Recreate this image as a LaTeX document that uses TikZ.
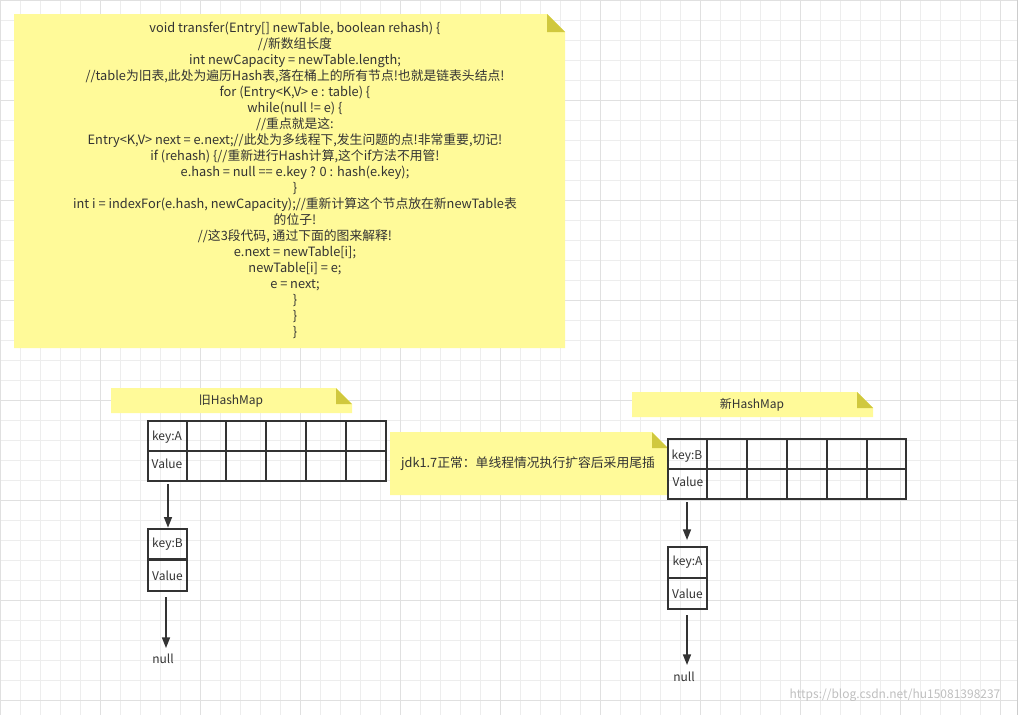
\documentclass[tikz,border=0pt]{standalone}
\usepackage{fontspec}
\setmainfont{Noto Sans CJK SC}
\usetikzlibrary{arrows.meta}
\begin{document}
\begin{tikzpicture}[x=0.75pt,y=-0.75pt,
  note/.style={fill=yellow!40!white,draw=none},
  fold/.style={fill=olive!60!yellow!70!white,draw=none},
  cell/.style={draw=black!80,line width=1.5pt},
  lbl/.style={font=\fontsize{9}{11}\selectfont,text=black!80,inner sep=1pt},
  arr/.style={draw=black!80,line width=1.2pt,-{Triangle[length=8pt,width=6pt]}}]
\useasboundingbox (0,0) rectangle (1035,715);
\fill[white] (0,0) rectangle (1035,715);
% grid
\foreach \x in {0,20,...,1000} \draw[black!7,line width=0.4pt] (\x,0) -- (\x,715);
\foreach \y in {0,20,...,700} \draw[black!7,line width=0.4pt] (0,\y) -- (1017,\y);
\foreach \x in {0,100,...,1000} \draw[black!12,line width=0.5pt] (\x,0) -- (\x,715);
\foreach \y in {0,100,...,700} \draw[black!12,line width=0.5pt] (0,\y) -- (1017,\y);
\draw[black!20] (1017,0) -- (1017,715);
% code note
\fill[note] (14,14) -- (547,14) -- (565,32) -- (565,348) -- (14,348) -- cycle;
\fill[fold] (547,14) -- (565,32) -- (547,32) -- cycle;
\node[lbl,align=center,font=\fontsize{9.6}{12}\selectfont] (code) at (295,180) {void transfer(Entry[] newTable, boolean rehash) \{\\
//新数组长度\\
int newCapacity = newTable.length;\\
//table为旧表,此处为遍历Hash表,落在桶上的所有节点!也就是链表头结点!\\
for (Entry<K,V> e : table) \{\\
while(null != e) \{\\
//重点就是这:\\
Entry<K,V> next = e.next;//此处为多线程下,发生问题的点!非常重要,切记!\\
if (rehash) \{//重新进行Hash计算,这个if方法不用管!\\
e.hash = null == e.key ? 0 : hash(e.key);\\
\}\\
int i = indexFor(e.hash, newCapacity);//重新计算这个节点放在新newTable表\\
的位子!\\
//这3段代码, 通过下面的图来解释!\\
e.next = newTable[i];\\
newTable[i] = e;\\
e = next;\\
\}\\
\}\\
\}};
% old label
\fill[note] (111,388) -- (336,388) -- (352,404) -- (352,413) -- (111,413) -- cycle;
\fill[fold] (336,388) -- (352,404) -- (336,404) -- cycle;
\node[lbl] (oldl) at (231,401) {旧HashMap};
% new label
\fill[note] (632,392) -- (857,392) -- (873,408) -- (873,417) -- (632,417) -- cycle;
\fill[fold] (857,392) -- (873,408) -- (857,408) -- cycle;
\node[lbl] (newl) at (752,405) {新HashMap};
% middle note
\fill[note] (390,432) -- (652,432) -- (668,448) -- (668,495) -- (390,495) -- cycle;
\fill[fold] (652,432) -- (668,448) -- (652,448) -- cycle;
\node[lbl,font=\fontsize{9.6}{11}\selectfont] (mid) at (528,464) {jdk1.7正常：单线程情况执行扩容后采用尾插};
% old table
\foreach \a/\b in {148/187,187/226,226/266,266/306,306/346,346/386}{
  \draw[cell] (\a,421) rectangle (\b,451);
  \draw[cell] (\a,451) rectangle (\b,481);}
\node[lbl] (oka) at (167,437) {key:A};
\node[lbl] (ova) at (167,464) {Value};
\coordinate (o1) at (168,484);
\node[lbl,draw=black!80,line width=1.5pt,minimum width=29pt,minimum height=23pt,inner sep=0pt] (okb) at (167.5,544) {key:B};
\node[lbl,draw=black!80,line width=1.5pt,minimum width=29pt,minimum height=23pt,inner sep=0pt] (ovb) at (167.5,575.5) {Value};
\node[lbl] (onull) at (163,659) {null};
\coordinate (o2) at (166,597);
\coordinate (o3) at (166,648);
\draw[arr] (o1) -- (okb.north -| o1);
\draw[arr] (o2) -- (o3);
% new table
\foreach \a/\b in {668/707,707/747,747/787,787/827,827/867,867/906}{
  \draw[cell] (\a,439) rectangle (\b,469);
  \draw[cell] (\a,469) rectangle (\b,499);}
\node[lbl] (nkb) at (687,456) {key:B};
\node[lbl] (nvb) at (688,482) {Value};
\node[lbl,draw=black!80,line width=1.5pt,minimum width=29pt,minimum height=23pt,inner sep=0pt] (nka) at (687.5,562.5) {key:A};
\node[lbl,draw=black!80,line width=1.5pt,minimum width=29pt,minimum height=23pt,inner sep=0pt] (nva) at (687.5,593.5) {Value};
\node[lbl] (nnull) at (684,677) {null};
\coordinate (n1) at (687,502);
\coordinate (n2) at (687,540);
\coordinate (n3) at (687,615);
\coordinate (n4) at (687,665);
\draw[arr] (n1) -- (n2);
\draw[arr] (n3) -- (n4);
\node[font=\fontsize{9}{11}\selectfont,text=black!25] (wm) at (895,695) {https://blog.csdn.net/hu15081398237};
\end{tikzpicture}
\end{document}
